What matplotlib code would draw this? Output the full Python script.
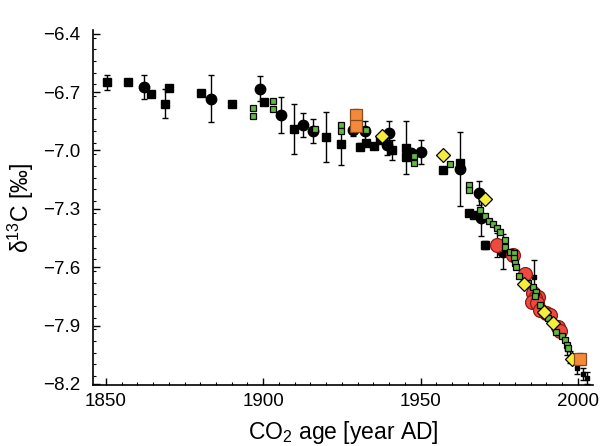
import matplotlib
matplotlib.use("Agg")
import matplotlib.pyplot as plt
from matplotlib.ticker import MultipleLocator

plt.rcParams['font.family'] = ['Liberation Sans', 'DejaVu Sans']
plt.rcParams['mathtext.fontset'] = 'custom'
plt.rcParams['mathtext.rm'] = 'Liberation Sans'
plt.rcParams['mathtext.it'] = 'Liberation Sans:italic'

# Black squares (year, d13C, error)
bsq_year = [1850.5, 1856.9, 1864.3, 1868.7, 1870.1, 1880.1, 1890.1, 1900.3, 1909.7,
            1919.8, 1924.7, 1930.7, 1932.8, 1935.2, 1937.1, 1940.8, 1945.5, 1945.5,
            1957.0, 1962.5, 1965.3, 1967.0, 1970.6]
bsq_d13c = [-6.650, -6.647, -6.709, -6.760, -6.679, -6.705, -6.762, -6.753, -6.890,
            -6.931, -6.967, -6.980, -6.959, -6.976, -6.945, -6.997, -6.985, -7.034,
            -7.100, -7.066, -7.322, -7.331, -7.485]
bsq_err = [0.037, 0.0, 0.0, 0.075, 0.01, 0.0, 0.0, 0.0, 0.13,
           0.128, 0.11, 0.02, 0.0, 0.0, 0.0, 0.05, 0.135, 0.0,
           0.0, 0.0, 0.0, 0.0, 0.02]

# Black circles
bci_year = [1862.2, 1883.3, 1898.9, 1905.8, 1912.5, 1915.9, 1928.6, 1932.3, 1939.2,
            1940.0, 1947.1, 1950.3, 1962.5, 1968.6, 1969.2, 1976.3]
bci_d13c = [-6.674, -6.734, -6.683, -6.817, -6.868, -6.902, -6.897, -6.902, -6.971,
            -6.911, -7.014, -7.009, -7.096, -7.220, -7.348, -7.520]
bci_err = [0.062, 0.12, 0.064, 0.094, 0.063, 0.062, 0.03, 0.055, 0.05,
           0.065, 0.02, 0.062, 0.19, 0.062, 0.09, 0.09]

# Small black points (mostly hidden behind other markers)
bsm_year = [1986.0, 1996.5, 1997.5, 1999.6, 2001.5, 2003.0]
bsm_d13c = [-7.650, -8.020, -8.060, -8.120, -8.150, -8.170]
bsm_err = [0.085, 0.03, 0.03, 0.03, 0.03, 0.03]

# Green squares
grn_year = [1896.8, 1896.8, 1903.0, 1903.0, 1916.6, 1924.6, 1924.6, 1932.7, 1948.0,
            1948.0, 1959.3, 1965.4, 1965.4, 1968.8, 1970.6, 1971.7, 1973.1, 1974.2,
            1975.2, 1976.8, 1976.8, 1978.4, 1979.6, 1979.8, 1980.0, 1980.3, 1981.3,
            1984.2, 1985.8, 1986.6, 1986.3, 1987.9, 1990.6, 1993.2, 1994.8, 1995.9,
            1996.4, 1997.0]
grn_d13c = [-6.782, -6.825, -6.745, -6.787, -6.890, -6.868, -6.899, -6.894, -7.028,
            -7.065, -7.069, -7.177, -7.203, -7.305, -7.336, -7.362, -7.377, -7.396,
            -7.417, -7.460, -7.494, -7.520, -7.528, -7.554, -7.580, -7.600, -7.645,
            -7.680, -7.700, -7.726, -7.750, -7.794, -7.862, -7.931, -7.953, -7.974,
            -8.000, -8.017]

# Yellow diamonds
yel_year = [1937.8, 1957.2, 1970.6, 1982.8, 1989.3, 1992.1, 1998.0]
yel_d13c = [-6.923, -7.022, -7.249, -7.686, -7.832, -7.888, -8.073]

# Red circles
red_year = [1974.3, 1979.4, 1983.1, 1985.8, 1987.4, 1986.3, 1985.3, 1987.0, 1987.9,
            1990.0, 1991.1, 1993.7, 1994.3]
red_d13c = [-7.485, -7.537, -7.635, -7.733, -7.751, -7.760, -7.777, -7.785, -7.820,
            -7.837, -7.845, -7.905, -7.930]
red_err = [0.06, 0.0, 0.0, 0.0, 0.0, 0.0, 0.0, 0.0, 0.0, 0.0, 0.0, 0.0, 0.0]

# Orange squares
org_year = [1929.4, 1929.4, 2000.8]
org_d13c = [-6.817, -6.873, -8.072]
org_err = [0.03, 0.0, 0.03]

x_ticks = [1850, 1900, 1950, 2000]
y_ticks = [-8.2, -7.9, -7.6, -7.3, -7.0, -6.7, -6.4]

fig = plt.figure(figsize=(6.02, 4.46), dpi=100)
ax = fig.add_axes([0.1545, 0.137, 0.8305, 0.796])

ekw = dict(ecolor='black', elinewidth=1.0, capsize=2.5, capthick=1.0, linestyle='none')

ax.errorbar(bsm_year, bsm_d13c, yerr=bsm_err, marker='s', ms=2.5, mfc='black',
            mec='black', zorder=2, **ekw)
ax.errorbar(bsq_year, bsq_d13c, yerr=bsq_err, marker='s', ms=6.3, mfc='black',
            mec='black', zorder=3, **ekw)
ax.errorbar(bci_year, bci_d13c, yerr=bci_err, marker='o', ms=7.5, mfc='black',
            mec='black', zorder=3, **ekw)
ax.errorbar(red_year, red_d13c, yerr=red_err, marker='o', ms=10, mfc='#ee4a40',
            mec='#8a1d18', mew=0.9, zorder=4, **ekw)
ax.plot(grn_year, grn_d13c, linestyle='none', marker='s', ms=5, mfc='#62b841',
        mec='black', mew=0.9, zorder=5)
ax.plot(yel_year, yel_d13c, linestyle='none', marker='D', ms=7, mfc='#f4ee3a',
        mec='black', mew=0.9, zorder=6)
ax.errorbar(org_year, org_d13c, yerr=org_err, marker='s', ms=8.5, mfc='#f5893a',
            mec='#8a4a1a', mew=0.9, zorder=6, **ekw)

ax.set_xlim(1845.9, 2004.8)
ax.set_ylim(-8.205, -6.38)
ax.set_xticks(x_ticks)
ax.set_yticks(y_ticks)
ax.set_yticklabels([f"\u2212{abs(v):.1f}" for v in y_ticks])
ax.xaxis.set_minor_locator(MultipleLocator(5))
ax.yaxis.set_minor_locator(MultipleLocator(0.06))

for s in ['top', 'right']:
    ax.spines[s].set_visible(False)
for s in ['left', 'bottom']:
    ax.spines[s].set_linewidth(1.2)

ax.tick_params(which='major', direction='in', length=5, width=1.0, labelsize=13.5)
ax.tick_params(which='minor', direction='in', length=2.5, width=0.8)
ax.tick_params(axis='y', which='major', pad=9)
ax.tick_params(axis='x', which='major', pad=6)

ax.set_xlabel('CO$_\\mathregular{2}$ age [year AD]', fontsize=16.5, labelpad=6)
ax.set_ylabel('$\\mathregular{\\delta^{13}}$C [\u2030]', fontsize=16.5, labelpad=5)

fig.savefig('out.png', dpi=100)
